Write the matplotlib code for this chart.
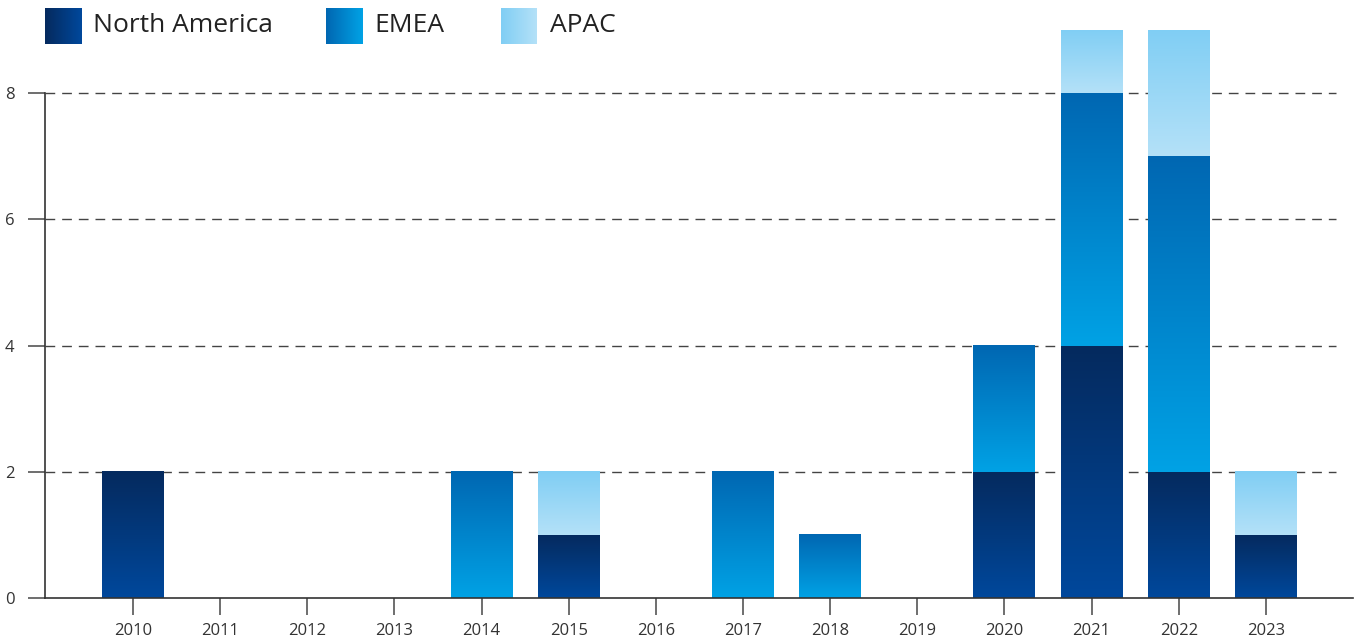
import matplotlib
matplotlib.use("Agg")
import matplotlib.pyplot as plt
import numpy as np
from matplotlib.colors import LinearSegmentedColormap

years = ["2010", "2011", "2012", "2013", "2014", "2015", "2016",
         "2017", "2018", "2019", "2020", "2021", "2022", "2023"]
north_america = [2, 0, 0, 0, 0, 1, 0, 0, 0, 0, 2, 4, 2, 1]
emea = [0, 0, 0, 0, 2, 0, 0, 2, 1, 0, 2, 4, 5, 0]
apac = [0, 0, 0, 0, 0, 1, 0, 0, 0, 0, 0, 1, 2, 1]
regions = ["North America", "EMEA", "APAC"]
y_ticks = [0, 2, 4, 6, 8]

# dark (top) -> light (bottom)
grads = {
    "North America": ("#052a5e", "#00489c"),
    "EMEA": ("#0067b2", "#00a2e5"),
    "APAC": ("#80cef4", "#b4e1f8"),
}

plt.rcParams["font.family"] = ["Open Sans", "DejaVu Sans"]

fig = plt.figure(figsize=(13.61, 6.43), dpi=100)
ax = fig.add_axes([45 / 1361, 45 / 643, 1308 / 1361, 568 / 643])

x = np.arange(len(years))
grad = np.linspace(0, 1, 256).reshape(-1, 1)

bottom = np.zeros(len(years))
for name, vals in zip(regions, [north_america, emea, apac]):
    cmap = LinearSegmentedColormap.from_list(name, [grads[name][1], grads[name][0]])
    bars = ax.bar(x, vals, width=0.71, bottom=bottom, color="none", zorder=2)
    for p in bars:
        if p.get_height() <= 0:
            continue
        x0, y0, w, h = p.get_x(), p.get_y(), p.get_width(), p.get_height()
        ax.imshow(grad, extent=[x0, x0 + w, y0, y0 + h], origin="lower",
                  cmap=cmap, aspect="auto", zorder=2, interpolation="bilinear")
    bottom += np.array(vals)

ax.set_xlim(-1.01, 14.0)
ax.set_ylim(0, 9)

# dashed grid lines
ax.hlines(y_ticks[1:], -1.01, 13.8, colors="#444444", linestyles=(0, (7, 5)),
          linewidth=1, zorder=1)

ax.set_xticks(x)
ax.set_xticklabels(years)
ax.set_yticks(y_ticks)
ax.tick_params(axis="x", length=12, width=1.2, color="#555555", pad=6,
               labelsize=12, labelcolor="#333333")
ax.tick_params(axis="y", length=12, width=1.2, color="#555555", pad=10,
               labelsize=12, labelcolor="#333333")

for s in ["top", "right"]:
    ax.spines[s].set_visible(False)
ax.spines["left"].set_bounds(0, 8)
for s in ["left", "bottom"]:
    ax.spines[s].set_color("#333333")
    ax.spines[s].set_linewidth(1.2)

# legend with gradient squares
leg_pos = [(45, 93), (326, 374), (501, 550)]
for name, (sx, tx) in zip(regions, leg_pos):
    lax = fig.add_axes([sx / 1361, (643 - 44) / 643, 36 / 1361, 36 / 643])
    cmap = LinearSegmentedColormap.from_list(name + "_l", [grads[name][0], grads[name][1]])
    lax.imshow(np.linspace(0, 1, 64).reshape(1, -1), cmap=cmap, aspect="auto")
    lax.axis("off")
    fig.text(tx / 1361, (643 - 25) / 643, name, fontsize=19, color="#222222",
             va="center", ha="left")

fig.savefig("out.png", dpi=100)
